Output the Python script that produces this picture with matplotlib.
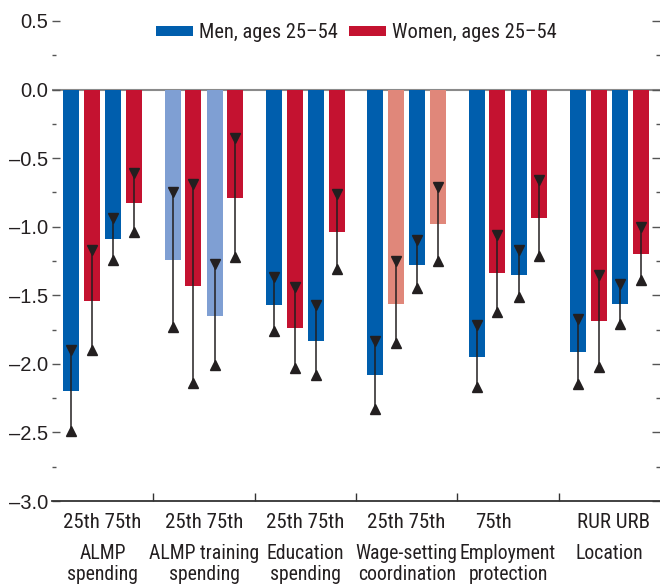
import matplotlib
matplotlib.use("Agg")
import matplotlib.pyplot as plt
from matplotlib import font_manager
from matplotlib.lines import Line2D
from matplotlib.ticker import MultipleLocator, FuncFormatter
import numpy as np

# ---------------- data ----------------
groups = ["ALMP\nspending", "ALMP training\nspending", "Education\nspending",
          "Wage-setting\ncoordination", "Employment\nprotection", "Location"]
sublabels = ["25th 75th", "25th 75th", "25th 75th", "25th 75th", "75th", "RUR URB"]

# first bar pair in each group (25th / RUR)
men_a = [-2.20, -1.24, -1.57, -2.08, -1.95, -1.91]
men_a_hi = [-1.90, -0.75, -1.37, -1.83, -1.72, -1.67]
men_a_lo = [-2.49, -1.73, -1.76, -2.33, -2.17, -2.15]
women_a = [-1.54, -1.43, -1.74, -1.56, -1.34, -1.69]
women_a_hi = [-1.17, -0.69, -1.44, -1.25, -1.06, -1.35]
women_a_lo = [-1.90, -2.14, -2.03, -1.85, -1.62, -2.02]
# second bar pair in each group (75th / URB)
men_b = [-1.09, -1.65, -1.83, -1.28, -1.35, -1.56]
men_b_hi = [-0.94, -1.27, -1.57, -1.10, -1.17, -1.42]
men_b_lo = [-1.24, -2.01, -2.08, -1.45, -1.51, -1.71]
women_b = [-0.83, -0.79, -1.04, -0.98, -0.94, -1.20]
women_b_hi = [-0.61, -0.35, -0.76, -0.71, -0.66, -1.00]
women_b_lo = [-1.04, -1.22, -1.31, -1.25, -1.21, -1.39]

men_faded = [False, True, False, False, False, False]
women_faded = [False, False, False, True, False, False]

series_labels = ["Men, ages 25\u201354", "Women, ages 25\u201354"]

# ---------------- style ----------------
avail = {f.name for f in font_manager.fontManager.ttflist}
family = "DejaVu Sans"
for cand in ["Liberation Sans Narrow", "Roboto Condensed", "DejaVu Sans Condensed", "Liberation Sans"]:
    if cand in avail:
        family = cand
        break
num_family = "Liberation Sans" if "Liberation Sans" in avail else family
plt.rcParams["font.family"] = [family, "DejaVu Sans"]
plt.rcParams["font.size"] = 15
TXT = "#231F20"

BLUE = "#005EAD"
BLUE_L = "#7F9FD3"
RED = "#C41230"
RED_L = "#E0877A"

fig = plt.figure(figsize=(6.6, 5.84), dpi=100)
ax = fig.add_axes([52 / 660, 83 / 584, 608 / 660, 480 / 584])

x = np.arange(len(groups))
offs = [-0.31, -0.104, 0.104, 0.31]
bw = 0.158

series = [
    (men_a, men_a_hi, men_a_lo, BLUE, BLUE_L, men_faded),
    (women_a, women_a_hi, women_a_lo, RED, RED_L, women_faded),
    (men_b, men_b_hi, men_b_lo, BLUE, BLUE_L, men_faded),
    (women_b, women_b_hi, women_b_lo, RED, RED_L, women_faded),
]

for k, (vals, hi, lo, c, cl, faded) in enumerate(series):
    cols = [cl if f else c for f in faded]
    xs = x + offs[k]
    ax.bar(xs, vals, width=bw, color=cols, zorder=2)
    ax.vlines(xs, lo, hi, color=TXT, lw=1.1, zorder=3)
    ax.plot(xs, hi, linestyle="none", marker="v", ms=6.5, color=TXT, zorder=4)
    ax.plot(xs, lo, linestyle="none", marker="^", ms=6.5, color=TXT, zorder=4)

ax.axhline(0, color="#8a8a8a", lw=1.5, zorder=1)

ax.set_xlim(-0.5, len(groups) - 0.5)
ax.set_ylim(-3.0, 0.5)

for s in ["left", "right", "top"]:
    ax.spines[s].set_visible(False)
ax.spines["bottom"].set_color("#333333")
ax.spines["bottom"].set_linewidth(1.3)

ax.yaxis.set_major_locator(MultipleLocator(0.5))
ax.yaxis.set_minor_locator(MultipleLocator(0.25))
ax.yaxis.set_major_formatter(FuncFormatter(lambda v, p: f"{v:.1f}".replace("-", "\u2013")))
ax.tick_params(axis="y", which="both", direction="in", left=True, right=True,
               labelleft=True, labelright=False, color="#555555", labelcolor=TXT, pad=3,
               labelsize=14.5)
ax.tick_params(axis="y", which="major", length=6, width=1.0)
ax.tick_params(axis="y", which="minor", length=3, width=1.0)
for lbl in ax.get_yticklabels():
    lbl.set_family([num_family, "DejaVu Sans"])

ax.set_xticks(x[:-1] + 0.5)
ax.tick_params(axis="x", which="major", direction="in", length=6, width=1.0,
               color="#333333", labelbottom=False)

# category labels
for i in range(len(groups)):
    sx = i - 0.14 if sublabels[i] == "75th" else i + 0.04 if i == len(groups) - 1 else i
    ax.annotate(sublabels[i], xy=(sx, 0), xycoords=("data", "axes fraction"),
                xytext=(0, -19.5), textcoords="offset points",
                ha="center", va="baseline", color=TXT)
    for j, line in enumerate(groups[i].split("\n")):
        ax.annotate(line, xy=(i, 0), xycoords=("data", "axes fraction"),
                    xytext=(0, -42.0 - 15.0 * j), textcoords="offset points",
                    ha="center", va="baseline", color=TXT, fontsize=14.2)

handles = [Line2D([0], [0], color=BLUE, lw=7.2, solid_capstyle="butt"),
           Line2D([0], [0], color=RED, lw=7.2, solid_capstyle="butt")]
ax.legend(handles, series_labels, loc="upper center", bbox_to_anchor=(0.5, 1.013),
          ncol=2, frameon=False, handlelength=1.85, handletextpad=0.25,
          columnspacing=0.55, borderaxespad=0.0, labelcolor=TXT, fontsize=14.7)

fig.savefig("out.png", dpi=100)
